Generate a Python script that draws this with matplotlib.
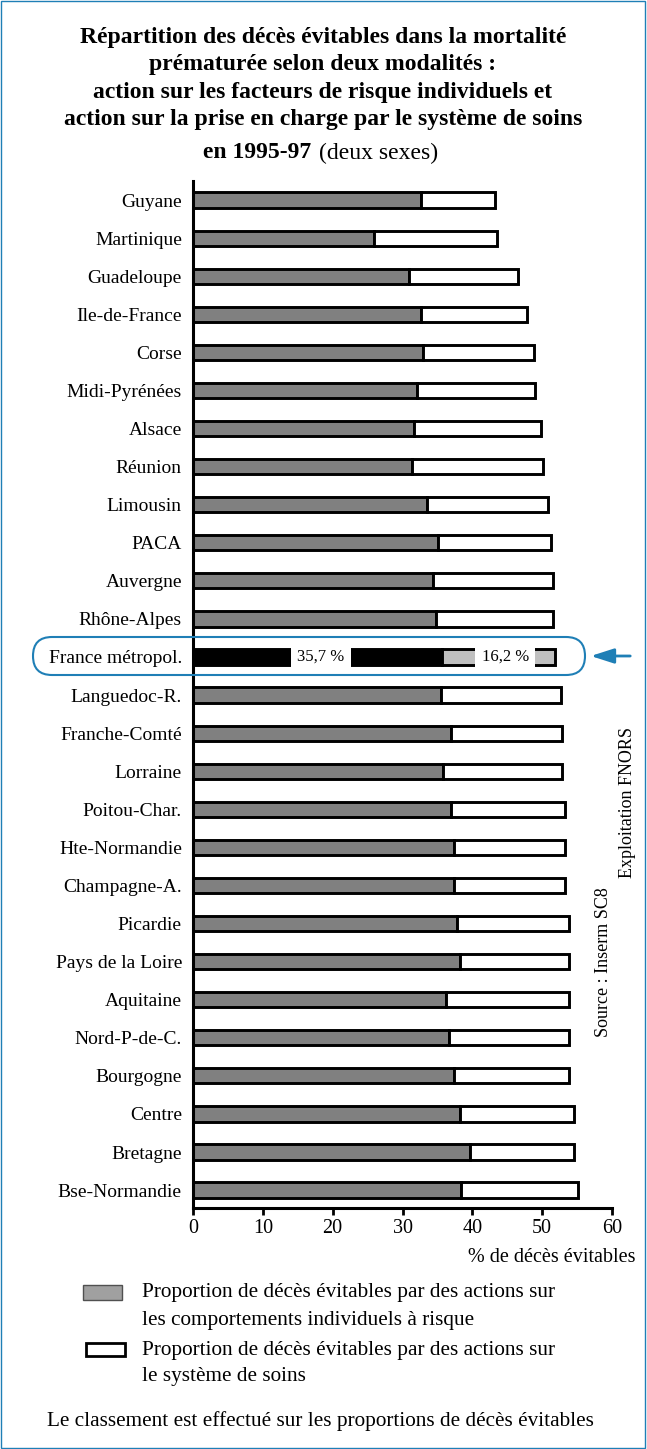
import matplotlib
matplotlib.use("Agg")
import matplotlib.pyplot as plt
from matplotlib.patches import Rectangle, FancyBboxPatch

# regions, sorted by total share of avoidable deaths
regions = ["Guyane", "Martinique", "Guadeloupe", "Ile-de-France", "Corse",
           "Midi-Pyrénées", "Alsace", "Réunion", "Limousin", "PACA",
           "Auvergne", "Rhône-Alpes", "France métropol.", "Languedoc-R.",
           "Franche-Comté", "Lorraine", "Poitou-Char.", "Hte-Normandie",
           "Champagne-A.", "Picardie", "Pays de la Loire", "Aquitaine",
           "Nord-P-de-C.", "Bourgogne", "Centre", "Bretagne", "Bse-Normandie"]
# % avoidable through individual risk behaviour
individuels = [32.6, 25.9, 30.9, 32.6, 32.9, 32.1, 31.7, 31.4, 33.5, 35.1,
               34.4, 34.8, 35.7, 35.5, 37.0, 35.8, 37.0, 37.4, 37.4, 37.8,
               38.2, 36.2, 36.7, 37.4, 38.3, 39.7, 38.4]
# % avoidable through the health care system
soins = [10.6, 17.7, 15.7, 15.2, 16.0, 16.9, 18.1, 18.7, 17.4, 16.1,
         17.2, 16.8, 16.2, 17.2, 15.8, 17.0, 16.2, 15.8, 15.8, 16.1,
         15.7, 17.7, 17.2, 16.5, 16.3, 14.9, 16.7]
france = "France métropol."
xticks = [0, 10, 20, 30, 40, 50, 60]

W, H = 647, 1449
BLUE = "#1f7fb6"
plt.rcParams["font.family"] = ["Liberation Serif", "DejaVu Serif"]


def fx(px):
    return px / W


def fy(py):
    return 1 - py / H


fig = plt.figure(figsize=(W / 100, H / 100), dpi=100)
fig.patch.set_facecolor("white")
ax = fig.add_axes([fx(193), fy(1208), fx(612) - fx(193), (1208 - 181) / H])

n = len(regions)
ypos = list(range(n))
fi = regions.index(france)
grey_cols = ["black" if r == france else "#808080" for r in regions]
white_cols = ["#c0c0c0" if r == france else "white" for r in regions]
ax.barh(ypos, individuels, height=0.4, color=grey_cols, edgecolor="black",
        linewidth=2.1, zorder=2)
ax.barh(ypos, soins, left=individuels, height=0.4, color=white_cols,
        edgecolor="black", linewidth=2.1, zorder=2)

# France labels printed over the bar
ax.text(18.3, fi, "35,7 %", ha="center", va="center", fontsize=12,
        bbox=dict(facecolor="white", edgecolor="none", pad=4.5), zorder=3)
ax.text(44.7, fi, "16,2 %", ha="center", va="center", fontsize=12,
        bbox=dict(facecolor="white", edgecolor="none", pad=4.5), zorder=3)

ax.set_xlim(0, 60)
ax.set_ylim(n - 1 + 0.47, -0.5)
ax.set_yticks(ypos)
ax.set_yticklabels(regions, fontsize=14)
ax.tick_params(axis="y", length=0, pad=8)
ax.set_xticks(xticks)
ax.set_xticklabels([str(t) for t in xticks], fontsize=14.5)
ax.tick_params(axis="x", length=5, width=2, pad=3)
for s in ["top", "right"]:
    ax.spines[s].set_visible(False)
for s in ["left", "bottom"]:
    ax.spines[s].set_linewidth(2.2)

# title
title = ("Répartition des décès évitables dans la mortalité\n"
         "prématurée selon deux modalités :\n"
         "action sur les facteurs de risque individuels et\n"
         "action sur la prise en charge par le système de soins")
fig.text(fx(323), fy(27), title, ha="center", va="top", fontsize=17,
         fontweight="bold", linespacing=1.4)
fig.text(fx(311), fy(153), "en 1995-97", ha="right", va="center",
         fontsize=17, fontweight="bold")
fig.text(fx(319), fy(153), "(deux sexes)", ha="left", va="center",
         fontsize=17)

fig.text(fx(636), fy(1257), "% de décès évitables", ha="right",
         va="center", fontsize=14.5)
fig.text(fx(603), fy(962), "Source : Inserm SC8", rotation=90,
         ha="center", va="center", fontsize=13)
fig.text(fx(627), fy(802), "Exploitation FNORS", rotation=90,
         ha="center", va="center", fontsize=13)

# legend
fig.patches.append(Rectangle((fx(83), fy(1300)), fx(122) - fx(83), 15 / H,
                             transform=fig.transFigure, facecolor="#a0a0a0",
                             edgecolor="#505050", linewidth=1))
fig.text(fx(142), fy(1293), "Proportion de décès évitables par des actions sur",
         ha="left", va="center", fontsize=15.3)
fig.text(fx(142), fy(1320), "les comportements individuels à risque",
         ha="left", va="center", fontsize=15.3)
fig.patches.append(Rectangle((fx(86), fy(1356)), fx(125) - fx(86), 13 / H,
                             transform=fig.transFigure, facecolor="white",
                             edgecolor="black", linewidth=2))
fig.text(fx(142), fy(1350), "Proportion de décès évitables par des actions sur",
         ha="left", va="center", fontsize=15.3)
fig.text(fx(142), fy(1377), "le système de soins",
         ha="left", va="center", fontsize=15.3)
fig.text(fx(47), fy(1421),
         "Le classement est effectué sur les proportions de décès évitables",
         ha="left", va="center", fontsize=15.3)

# highlight of the national row
fig.patches.append(FancyBboxPatch((0.33, (H - 675) / 100), 5.52, 0.38,
                                  boxstyle="round,pad=0,rounding_size=0.19",
                                  transform=fig.dpi_scale_trans,
                                  facecolor="none", edgecolor=BLUE,
                                  linewidth=1.5))
ax.annotate("", xy=(5.88, (H - 656) / 100), xytext=(6.33, (H - 656) / 100),
            xycoords=fig.dpi_scale_trans, textcoords=fig.dpi_scale_trans,
            arrowprops=dict(arrowstyle="-|>,head_length=1.4,head_width=0.45",
                            color=BLUE, lw=2))

# outer frame
fig.patches.append(Rectangle((0.002, 0.001), 0.995, 0.998,
                             transform=fig.transFigure, facecolor="none",
                             edgecolor=BLUE, linewidth=1))

fig.savefig("out.png", dpi=100)
